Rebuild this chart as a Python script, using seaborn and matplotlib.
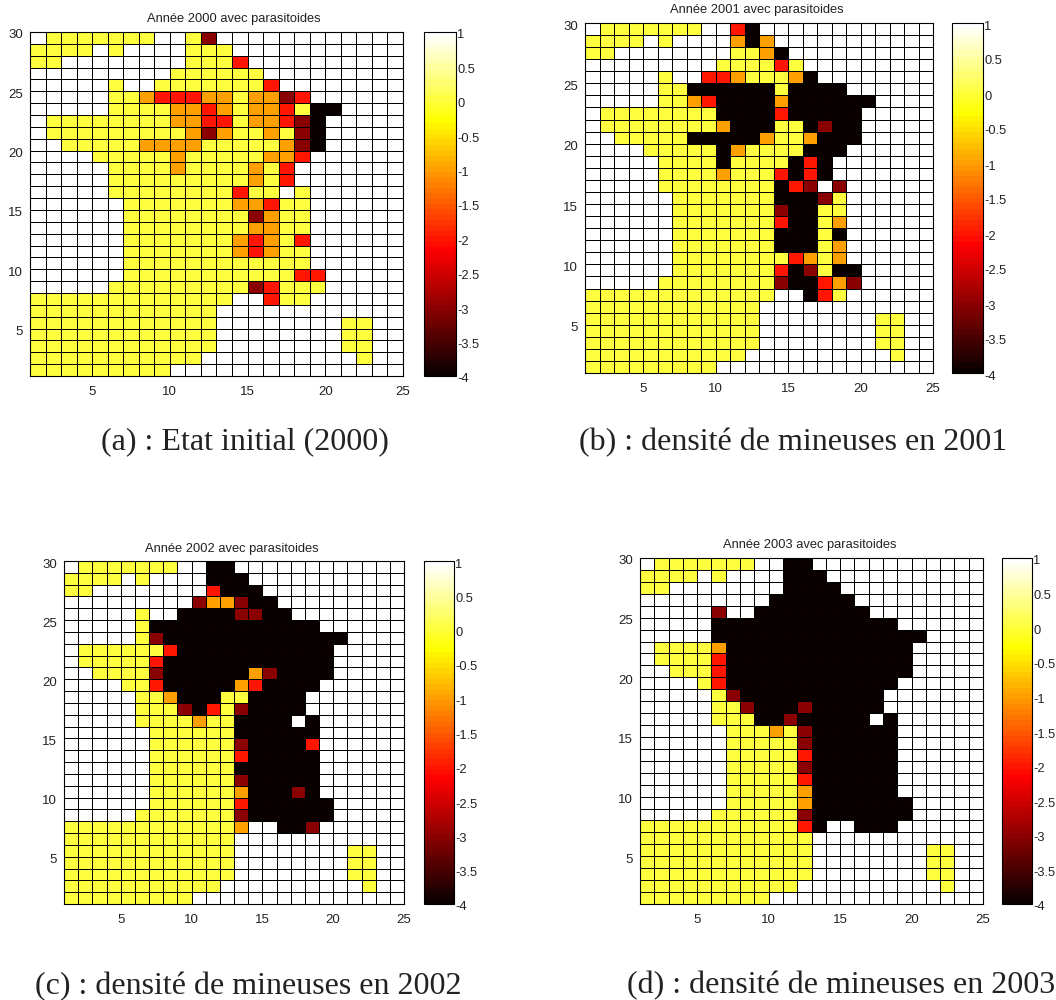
import numpy as np
import seaborn as sns
import matplotlib.pyplot as plt
from matplotlib.transforms import ScaledTranslation

codes = {".": 1, "y": 0, "o": -1, "r": -2, "d": -3, "k": -4}

# lignes du haut (y=30) vers le bas (y=1), 24 colonnes
annee_2000 = [
    ".yyyyyyy..yd............",
    "yyyy.y....yyy...........",
    "yy........yyyr..........",
    ".........yyyyyy.........",
    ".....y..yyyyyyyr........",
    ".....yyorrrooyoodr......",
    ".....yyyyooroyoorykk....",
    ".yyyyyyyyoorryoordk.....",
    ".yyyyyyyyyodoyyoydk.....",
    "..yyyyyooooyyyyyodk.....",
    "....yyyyyoyyyyyoor......",
    ".....yyyyoyyyyoyr.......",
    ".....yyyyyyyyyoyr.......",
    ".....yyyyyyyyryy.y......",
    "......yyyyyyyooryy......",
    "......yyyyyyyydoyy......",
    "......yyyyyyyyooyy......",
    "......yyyyyyyoroyr......",
    "......yyyyyyyoroyy......",
    "......yyyyyyyyyyyy......",
    "......yyyyyyyyyyyrr.....",
    ".....yyyyyyyyydryyy.....",
    "yyyyyyyyyyyyy..ryy......",
    "yyyyyyyyyyyy............",
    "yyyyyyyyyyyy........yy..",
    "yyyyyyyyyyyy........yy..",
    "yyyyyyyyyyyy........yy..",
    "yyyyyyyyyyy..........y..",
    "yyyyyyyyy...............",
]
annee_2001 = [
    ".yyyyyyy..rk............",
    "yyyy.y....oko...........",
    "yy........yyok..........",
    ".........yyyyry.........",
    ".....y..rroyyyok........",
    ".....yykkkkkkykkkk......",
    ".....yyorkkkkokkkkkk....",
    ".yyyyyyyykkkkrkkkkk.....",
    ".yyyyyyyyokkkyykdkk.....",
    "..yyyyykkkkkoyyokkk.....",
    "....yyyyykoyyyykkk......",
    ".....yyyykyyyykrk.......",
    ".....yyyyoyyyrkrk.......",
    ".....yyyyyyyykrd.d......",
    "......yyyyyyykkkdy......",
    "......yyyyyyydkkyy......",
    "......yyyyyyyrkkyo......",
    "......yyyyyyykkkyk......",
    "......yyyyyyykkkyo......",
    "......yyyyyyyyroyo......",
    "......yyyyyyyrkdykk.....",
    ".....yyyyyyyydkkrod.....",
    "yyyyyyyyyyyyy..kry......",
    "yyyyyyyyyyyy............",
    "yyyyyyyyyyyy........yy..",
    "yyyyyyyyyyyy........yy..",
    "yyyyyyyyyyyy........yy..",
    "yyyyyyyyyyy..........y..",
    "yyyyyyyyy...............",
]
annee_2002 = [
    ".yyyyyyy..kk............",
    "yyyy.y....kkk...........",
    "yy........rkkk..........",
    ".........doodkk.........",
    ".....y..kkkkddkk........",
    ".....ykkkkkkkkkkkk......",
    ".....ydkkkkkkkkkkkkk....",
    ".yyyyyyrkkkkkkkkkkk.....",
    ".yyyyyrkkkkkkkkkkkk.....",
    "..yyyydkkkkkkodkkkk.....",
    "....yyrkkkkkorkkkk......",
    ".....yyokkkyykkkk.......",
    ".....yyydkrydkkkk.......",
    ".....yyyyoyykkkk.k......",
    "......yyyyyykkkkkk......",
    "......yyyyyydkkkkr......",
    "......yyyyyyrkkkkk......",
    "......yyyyyykkkkkk......",
    "......yyyyyydkkkkk......",
    "......yyyyyyokkkdk......",
    "......yyyyyyrkkkkkk.....",
    ".....yyyyyyydkkkkkk.....",
    "yyyyyyyyyyyyo..kkd......",
    "yyyyyyyyyyyy............",
    "yyyyyyyyyyyy........yy..",
    "yyyyyyyyyyyy........yy..",
    "yyyyyyyyyyyy........yy..",
    "yyyyyyyyyyy..........y..",
    "yyyyyyyyy...............",
]
annee_2003 = [
    ".yyyyyyy..kk............",
    "yyyy.y....kkk...........",
    "yy........kkkk..........",
    ".........kkkkkk.........",
    ".....d..kkkkkkkk........",
    ".....kkkkkkkkkkkkk......",
    ".....kkkkkkkkkkkkkkk....",
    ".yyyyokkkkkkkkkkkkk.....",
    ".yyyyrkkkkkkkkkkkkk.....",
    "..yyyrkkkkkkkkkkkkk.....",
    "....yrkkkkkkkkkkkk......",
    ".....ydkkkkkkkkkk.......",
    ".....yydkkkdkkkkk.......",
    ".....yyykkdkkkkk.k......",
    "......yyyoydkkkkkk......",
    "......yyyyydkkkkkk......",
    "......yyyyyrkkkkkk......",
    "......yyyyydkkkkkk......",
    "......yyyyyrkkkkkk......",
    "......yyyyyokkkkkk......",
    "......yyyyyokkkkkkk.....",
    ".....yyyyyydkkkkkkk.....",
    "yyyyyyyyyyyrk..kkk......",
    "yyyyyyyyyyyy............",
    "yyyyyyyyyyyy........yy..",
    "yyyyyyyyyyyy........yy..",
    "yyyyyyyyyyyy........yy..",
    "yyyyyyyyyyy..........y..",
    "yyyyyyyyy...............",
]

titres = ["Année 2000 avec parasitoides", "Année 2001 avec parasitoides",
          "Année 2002 avec parasitoides", "Année 2003 avec parasitoides"]
legendes = ["(a) : Etat initial (2000)", "(b) : densité de mineuses en 2001",
            "(c) : densité de mineuses en 2002", "(d) : densité de mineuses en 2003"]
cartes = [annee_2000, annee_2001, annee_2002, annee_2003]
xticks = [5, 10, 15, 20, 25]
yticks = [5, 10, 15, 20, 25, 30]
cbar_ticks = [1, 0.5, 0, -0.5, -1, -1.5, -2, -2.5, -3, -3.5, -4]

# position en pixels: axe (x0, x1, y0, y1), barre (x0, x1), titre (x, y), legende (x, y)
W, H = 1056, 1000
axes_px = [(30, 403, 32, 376), (585, 933, 23, 373), (64, 404, 561, 904), (640, 983, 558, 904)]
cbar_px = [(424, 456), (952, 983), (424, 454), (1002, 1032)]
titre_px = [(234, 19), (757, 10), (232, 549), (810, 545)]
legende_px = [(245, 442), (793, 443), (248, 987), (841, 986)]

sns.set_style("white")
plt.rcParams["font.family"] = ["Liberation Sans", "DejaVu Sans"]
plt.rcParams["axes.unicode_minus"] = False

cmap = plt.get_cmap("hot", 64)
fig = plt.figure(figsize=(W / 100, H / 100), dpi=100)
# les etiquettes verticales sont un peu plus bas que les graduations
decale = ScaledTranslation(0, -2 / 100, fig.dpi_scale_trans)


def rect(x0, x1, y0, y1):
    return [x0 / W, 1 - y1 / H, (x1 - x0) / W, (y1 - y0) / H]


for i, carte in enumerate(cartes):
    x0, x1, y0, y1 = axes_px[i]
    ax = fig.add_axes(rect(x0, x1, y0, y1))
    cax = fig.add_axes(rect(cbar_px[i][0], cbar_px[i][1], y0, y1))
    z = np.array([[codes[c] for c in ligne] for ligne in carte], dtype=float)

    sns.heatmap(z, ax=ax, cbar_ax=cax, cmap=cmap, vmin=-4, vmax=1,
                linewidths=0.4, linecolor="black", xticklabels=False, yticklabels=False,
                cbar_kws={"ticks": cbar_ticks})

    # l'axe va de 1 a 25 et de 1 a 30, les cellules commencent a 0 dans heatmap
    ax.set_xticks([t - 1 for t in xticks])
    ax.set_xticklabels(xticks, rotation=0)
    ax.set_yticks([30 - t for t in yticks])
    ax.set_yticklabels(yticks, rotation=0)
    ax.tick_params(length=0, labelsize=9.5, colors="#222222")
    ax.tick_params(axis="x", pad=7)
    ax.tick_params(axis="y", pad=5)
    for s in ax.spines.values():
        s.set_visible(True)
        s.set_color("black")
        s.set_linewidth(0.8)

    cax.set_yticklabels([f"{t:g}" for t in cbar_ticks])
    cax.tick_params(direction="in", length=3, width=0.7, pad=1, labelsize=9.3,
                    colors="#222222", right=True)
    cb = ax.collections[0].colorbar
    cb.outline.set_visible(True)
    cb.outline.set_edgecolor("black")
    cb.outline.set_linewidth(0.8)

    for lab in ax.get_yticklabels() + cax.get_yticklabels():
        lab.set_transform(lab.get_transform() + decale)

    fig.text(titre_px[i][0] / W, 1 - titre_px[i][1] / H, titres[i], fontsize=9.3,
             ha="center", va="center", color="#222222")
    fig.text(legende_px[i][0] / W, 1 - legende_px[i][1] / H, legendes[i], fontsize=23,
             ha="center", va="center", family=["Liberation Serif", "DejaVu Serif"], color="#222222")

fig.savefig("out.png", dpi=100, facecolor="white")
